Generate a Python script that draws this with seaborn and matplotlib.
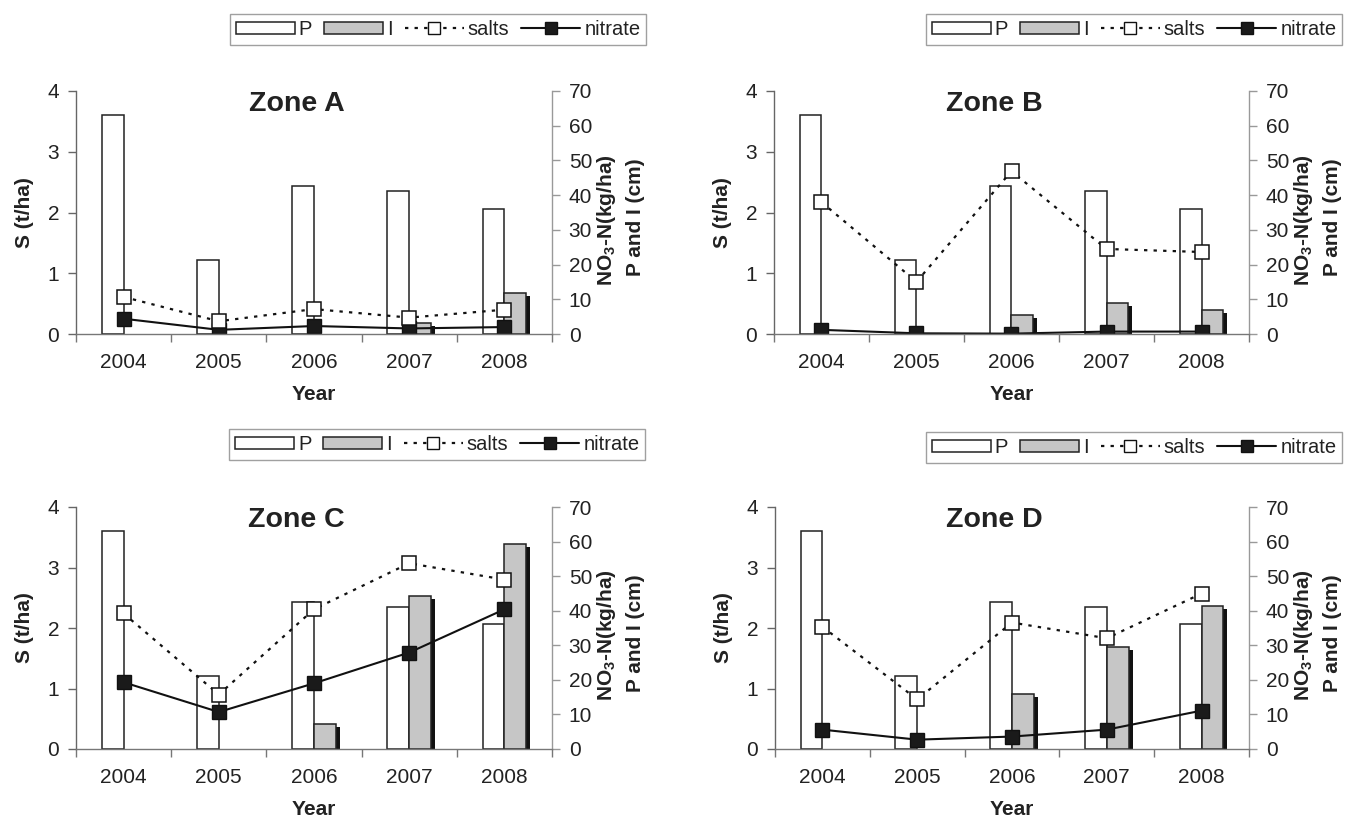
import numpy as np
import pandas as pd
import matplotlib
matplotlib.use("Agg")
import matplotlib.pyplot as plt
import seaborn as sns
from matplotlib.patches import Patch, Rectangle
from matplotlib.lines import Line2D
from matplotlib.transforms import offset_copy

# ---------------- data ----------------
years = ["2004", "2005", "2006", "2007", "2008"]
zones = ["Zone A", "Zone B", "Zone C", "Zone D"]

precip_P = [63.0, 21.2, 42.6, 41.1, 36.1]          # P (cm), right axis

irr_A = [0.0, 0.0, 0.0, 3.1, 11.7]                # I (cm), right axis
irr_B = [0.0, 0.0, 5.6, 9.0, 6.8]
irr_C = [0.0, 0.0, 7.2, 44.2, 59.4]
irr_D = [0.0, 0.0, 16.0, 29.6, 41.3]

salts_A = [0.61, 0.21, 0.41, 0.27, 0.40]           # S (t/ha), left axis
salts_B = [2.17, 0.86, 2.68, 1.40, 1.35]
salts_C = [2.24, 0.90, 2.31, 3.07, 2.80]
salts_D = [2.02, 0.82, 2.09, 1.83, 2.57]

nitrate_A = [4.4, 1.2, 2.3, 1.6, 2.0]              # NO3-N (kg/ha), right axis
nitrate_B = [1.2, 0.2, 0.1, 0.7, 0.7]
nitrate_C = [19.3, 10.7, 19.0, 27.9, 40.4]
nitrate_D = [5.6, 2.7, 3.6, 5.6, 11.1]

left_ticks = [0, 1, 2, 3, 4]
right_ticks = [0, 10, 20, 30, 40, 50, 60, 70]
legend_labels = ["P", "I", "salts", "nitrate"]

irr = [irr_A, irr_B, irr_C, irr_D]
salts = [salts_A, salts_B, salts_C, salts_D]
nitrate = [nitrate_A, nitrate_B, nitrate_C, nitrate_D]

# ---------------- style ----------------
sns.set_style("white")
plt.rcParams["font.family"] = ["Liberation Sans", "DejaVu Sans"]
plt.rcParams["mathtext.fontset"] = "custom"
plt.rcParams["mathtext.rm"] = "Liberation Sans:bold"
plt.rcParams["mathtext.bf"] = "Liberation Sans:bold"

W, H = 1346, 818
fig = plt.figure(figsize=(W / 100, H / 100), dpi=100)
fig.patch.set_facecolor("white")

# axes boxes in pixels: left, top, right, bottom
boxes = [(76, 91, 552, 334), (774, 91, 1249, 334),
         (76, 507, 552, 749), (775, 507, 1249, 749)]
legend_pos = [(230, 14), (926, 14), (229, 429), (926, 432)]

P_COLOR = "white"
I_COLOR = "#c6c6c6"
EDGE = "#222222"
TXT = "#222222"
TICK_FS = 15
LAB_FS = 15

for k in range(4):
    l, t, r, b = boxes[k]
    ax = fig.add_axes([l / W, 1 - b / H, (r - l) / W, (b - t) / H])
    ax2 = ax.twinx()
    ax.set_zorder(3)
    ax.patch.set_visible(False)

    df = pd.DataFrame({
        "year": years * 2,
        "var": ["P"] * 5 + ["I"] * 5,
        "val": precip_P + irr[k],
    })
    sns.barplot(data=df, x="year", y="val", hue="var", hue_order=["P", "I"],
                palette={"P": P_COLOR, "I": I_COLOR}, width=0.46,
                edgecolor=EDGE, linewidth=1.1, errorbar=None, legend=False,
                ax=ax2, zorder=2)
    # shadow behind the I bars
    shadow_tr = offset_copy(ax2.transData, fig=fig, x=4, y=-3, units="dots")
    for p in ax2.containers[1]:
        if p.get_height() > 0:
            sh = Rectangle((p.get_x(), p.get_y()), p.get_width(), p.get_height(),
                           transform=shadow_tr, facecolor="#111111",
                           edgecolor="none", zorder=1.5)
            ax2.add_patch(sh)
        else:
            p.set_visible(False)

    sns.lineplot(x=years, y=nitrate[k], ax=ax2, color="#111111", linewidth=1.5,
                 marker="s", markersize=10.5, markerfacecolor="#1a1a1a",
                 markeredgecolor="#111111", markeredgewidth=1.0, zorder=4,
                 sort=False)
    sns.lineplot(x=years, y=salts[k], ax=ax, color="#111111", linewidth=1.6,
                 linestyle=(0, (1.5, 2.8)), marker="s", markersize=10.5,
                 markerfacecolor="white", markeredgecolor="#111111",
                 markeredgewidth=1.1, zorder=5, sort=False)

    # axes limits / ticks
    ax.set_ylim(0, 4)
    ax2.set_ylim(0, 70)
    ax.set_yticks(left_ticks)
    ax2.set_yticks(right_ticks)
    ax.set_xlim(-0.5, 4.5)
    ax.set_xticks(np.arange(-0.5, 5.0, 1.0))
    ax.set_xticklabels([""] * 6)
    ax.set_xticks(np.arange(5), minor=True)
    ax.set_xticklabels(years, minor=True)
    ax.tick_params(axis="x", which="major", direction="out", length=6,
                   width=1, color="#777777", bottom=True)
    ax.tick_params(axis="x", which="minor", length=0, pad=14,
                   labelsize=TICK_FS, labelcolor=TXT, bottom=True)
    ax.tick_params(axis="y", direction="out", length=6, width=1,
                   color="#666666", pad=6, labelsize=TICK_FS, labelcolor=TXT,
                   left=True)
    ax2.tick_params(axis="y", direction="out", length=6, width=1,
                    color="#999999", pad=6, labelsize=TICK_FS, labelcolor=TXT,
                    right=True)

    for s in ["top", "right"]:
        ax.spines[s].set_visible(False)
    ax.spines["left"].set_color("#666666")
    ax.spines["bottom"].set_color("#777777")
    for s in ["top", "left", "bottom"]:
        ax2.spines[s].set_visible(False)
    ax2.spines["right"].set_color("#999999")
    for sp in list(ax.spines.values()) + list(ax2.spines.values()):
        sp.set_linewidth(1.0)

    ax.grid(False)
    ax2.grid(False)
    ax.set_xlabel("")
    ax.set_ylabel("")
    ax2.set_xlabel("")
    ax2.set_ylabel("")

    # labels
    ax.text(0.5, -0.21, "Year", transform=ax.transAxes, ha="center",
            va="top", fontsize=LAB_FS, fontweight="bold", color=TXT)
    ax.text(-0.108, 0.5, "S (t/ha)", transform=ax.transAxes, rotation=90,
            ha="center", va="center", fontsize=LAB_FS, fontweight="bold",
            color=TXT)
    ax.text(1.115, 0.47, r"NO$_\mathbf{3}$-N(kg/ha)", transform=ax.transAxes,
            rotation=90, ha="center", va="center", fontsize=LAB_FS,
            fontweight="bold", color=TXT)
    ax.text(1.176, 0.48, "P and I (cm)", transform=ax.transAxes, rotation=90,
            ha="center", va="center", fontsize=LAB_FS, fontweight="bold",
            color=TXT)
    ax.text(0.463, 0.945, zones[k], transform=ax.transAxes, ha="center",
            va="center", fontsize=20.5, fontweight="bold", color=TXT)

    # legend
    handles = [
        Patch(facecolor=P_COLOR, edgecolor=EDGE, linewidth=1.1),
        Patch(facecolor=I_COLOR, edgecolor=EDGE, linewidth=1.1),
        Line2D([], [], color="#111111", linewidth=1.6, linestyle=(0, (1.5, 2.8)),
               marker="s", markersize=9, markerfacecolor="white",
               markeredgecolor="#111111"),
        Line2D([], [], color="#111111", linewidth=1.5, marker="s",
               markersize=9, markerfacecolor="#1a1a1a",
               markeredgecolor="#111111"),
    ]
    lx, ly = legend_pos[k]
    leg = fig.legend(handles, legend_labels, loc="upper left",
                     bbox_to_anchor=(lx / W, 1 - ly / H), ncol=4,
                     frameon=True, fancybox=False, borderaxespad=0,
                     fontsize=14.5, handlelength=2.92, handleheight=0.6,
                     handletextpad=0.2, columnspacing=0.6, borderpad=0.3)
    for txt in leg.get_texts():
        txt.set_color(TXT)
    leg.get_frame().set_edgecolor("#888888")
    leg.get_frame().set_linewidth(1.0)

fig.savefig("out.png", dpi=100, facecolor="white")
